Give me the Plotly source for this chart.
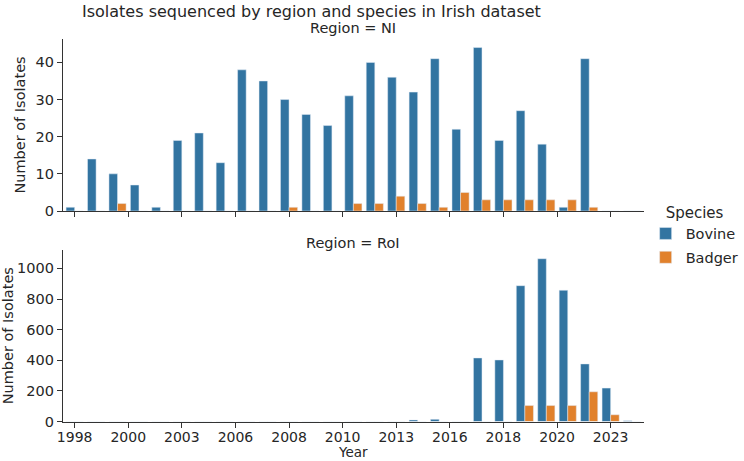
import plotly.graph_objects as go
from plotly.subplots import make_subplots

years = list(range(1998, 2025))

ni_bovine = [1, 14, 10, 7, 1, 19, 21, 13, 38, 35, 30, 26, 23, 31, 40, 36, 32, 41, 22, 44, 19, 27, 18, 1, 41, 0, 0]
ni_badger = [0, 0, 2, 0, 0, 0, 0, 0, 0, 0, 1, 0, 0, 2, 2, 4, 2, 1, 5, 3, 3, 3, 3, 3, 1, 0, 0]

roi_bovine = [0, 0, 0, 0, 0, 0, 0, 0, 0, 0, 0, 0, 0, 0, 0, 0, 10, 14, 0, 415, 402, 887, 1063, 857, 376, 218, 5]
roi_badger = [0, 0, 0, 0, 0, 0, 0, 0, 0, 0, 0, 0, 0, 0, 0, 0, 0, 0, 0, 0, 0, 104, 104, 104, 194, 44, 0]

tick_vals = [1998, 2000.5, 2003, 2005.5, 2008, 2010.5, 2013, 2015.5, 2018, 2020.5, 2023]
tick_text = ["1998", "2000", "2003", "2006", "2008", "2010", "2013", "2016", "2018", "2020", "2023"]

BLUE = "#3274a1"
ORANGE = "#e1812c"
FONT = "DejaVu Sans"
AX = "#333333"
TXT = "#262626"
FS = 14.5

fig = make_subplots(rows=2, cols=1)

fig.add_trace(go.Bar(x=years, y=ni_bovine, name="Bovine", marker_color=BLUE, legendgroup="b"), row=1, col=1)
fig.add_trace(go.Bar(x=years, y=ni_badger, name="Badger", marker_color=ORANGE, legendgroup="g"), row=1, col=1)
fig.add_trace(go.Bar(x=years, y=roi_bovine, name="Bovine", marker_color=BLUE, legendgroup="b", showlegend=False), row=2, col=1)
fig.add_trace(go.Bar(x=years, y=roi_badger, name="Badger", marker_color=ORANGE, legendgroup="g", showlegend=False), row=2, col=1)

W, H = 744, 461
x0, x1 = 63.5, 648
xd = [x0 / W, x1 / W]

axis_common = dict(showline=True, linecolor=AX, linewidth=1.3, ticks="outside", ticklen=5,
                   tickwidth=1.3, tickcolor=AX, showgrid=False, zeroline=False, automargin=False,
                   tickfont=dict(family=FONT, size=FS, color=TXT))

fig.update_xaxes(range=[1997.46, 2024.54], tickvals=tick_vals, ticktext=tick_text, domain=xd, **axis_common)
fig.update_xaxes(showticklabels=False, row=1, col=1)
fig.update_xaxes(tickfont=dict(family=FONT, size=14, color=TXT), ticklabelstandoff=-2, row=2, col=1)

fig.update_yaxes(**axis_common)
fig.update_yaxes(range=[0, 46.3], tickvals=[0, 10, 20, 30, 40], domain=[1 - 211 / H, 1 - 39 / H],
                 title=dict(text="Number of Isolates", font=dict(family=FONT, size=FS, color=TXT), standoff=6),
                 row=1, col=1)
fig.update_yaxes(range=[0, 1120], tickvals=[0, 200, 400, 600, 800, 1000], domain=[1 - 421.5 / H, 1 - 250 / H],
                 title=dict(text="Number of Isolates", font=dict(family=FONT, size=FS, color=TXT), standoff=6),
                 row=2, col=1)

cx = (x0 + x1) / 2 / W
fig.add_annotation(text="Isolates sequenced by region and species in Irish dataset", x=314 / W, y=1 - 11 / H,
                   xref="paper", yref="paper", showarrow=False, xanchor="center", yanchor="middle",
                   font=dict(family=FONT, size=16, color=TXT))
fig.add_annotation(text="Region = NI", x=cx, y=1 - 28 / H, xref="paper", yref="paper", showarrow=False,
                   xanchor="center", yanchor="middle", font=dict(family=FONT, size=FS, color=TXT))
fig.add_annotation(text="Region = RoI", x=cx, y=1 - 243 / H, xref="paper", yref="paper", showarrow=False,
                   xanchor="center", yanchor="middle", font=dict(family=FONT, size=FS, color=TXT))
fig.add_annotation(text="Year", x=cx, y=0, xref="paper", yref="paper", showarrow=False,
                   xanchor="center", yanchor="bottom", borderpad=0,
                   font=dict(family=FONT, size=13.5, color=TXT))

fig.update_layout(
    width=W, height=H,
    margin=dict(l=0, r=0, t=0, b=0),
    paper_bgcolor="white", plot_bgcolor="white",
    barmode="group", bargap=0.2, bargroupgap=0,
    font=dict(family=FONT, size=FS, color=TXT),
    legend=dict(x=650 / W, y=1 - 198 / H, xanchor="left", yanchor="top",
                title=dict(text="Species", font=dict(family=FONT, size=15, color=TXT), side="top center"),
                font=dict(family=FONT, size=FS, color=TXT), bgcolor="rgba(0,0,0,0)",
                itemwidth=30, tracegroupgap=2),
)

fig.write_html("out.html")
